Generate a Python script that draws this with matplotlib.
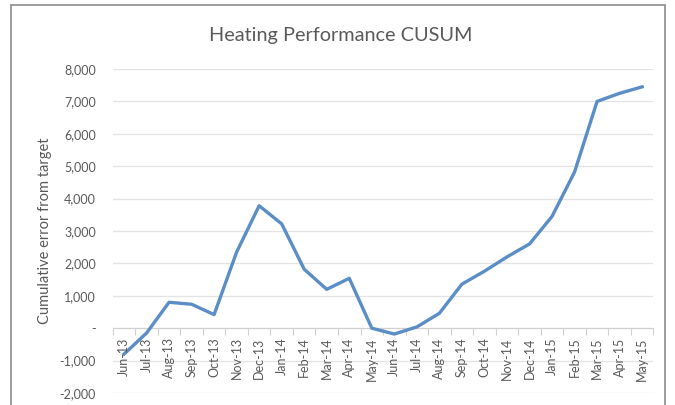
import matplotlib.pyplot as plt
from matplotlib.patches import Rectangle
from matplotlib.ticker import FuncFormatter

plt.rcParams['font.family'] = ['Lato', 'DejaVu Sans']

months = ['Jun-13', 'Jul-13', 'Aug-13', 'Sep-13', 'Oct-13', 'Nov-13', 'Dec-13', 'Jan-14',
          'Feb-14', 'Mar-14', 'Apr-14', 'May-14', 'Jun-14', 'Jul-14', 'Aug-14', 'Sep-14',
          'Oct-14', 'Nov-14', 'Dec-14', 'Jan-15', 'Feb-15', 'Mar-15', 'Apr-15', 'May-15']
cusum = [-800, -150, 800, 740, 420, 2350, 3780, 3220,
         1820, 1200, 1540, 0, -180, 40, 460, 1360,
         1760, 2200, 2600, 3450, 4820, 7000, 7250, 7450]
yticks = list(range(-2000, 8001, 1000))

fig = plt.figure(figsize=(6.75, 4.05), dpi=100)
ax = fig.add_axes([0.167, 0.0296, 0.801, 0.80])

x = list(range(len(months)))
ax.plot(x, cusum, color='#5b8ec6', linewidth=2.4, solid_joinstyle='round', zorder=3)

ax.set_xlim(-0.5, len(months) - 0.5)
ax.set_ylim(-2000, 8000)
ax.set_yticks(yticks)
ax.yaxis.set_major_formatter(FuncFormatter(lambda v, p: '-' if v == 0 else f'{int(v):,}'))
ax.grid(axis='y', color='#e3e3e3', linewidth=0.9, zorder=0)
ax.tick_params(axis='y', length=0, labelsize=9, labelcolor='#595959', pad=12)

for s in ['top', 'right', 'left']:
    ax.spines[s].set_visible(False)
ax.spines['bottom'].set_position(('data', 0))
ax.spines['bottom'].set_color('#d0d0d0')

# category separators on the zero line, labels hanging below it
ax.set_xticks([i - 0.5 for i in range(len(months) + 1)])
ax.set_xticklabels([])
ax.tick_params(axis='x', length=5, color='#d0d0d0', direction='out')
for i, m in enumerate(months):
    ax.text(i, -280, m, rotation=90, ha='center', va='top', fontsize=9, color='#595959')

ax.set_ylabel('Cumulative error from target', fontsize=10.5, color='#595959')
ax.yaxis.set_label_coords((52 - 112.7) / (0.801 * 675), 0.5)

fig.text(341 / 675, 1 - 35 / 405, 'Heating Performance CUSUM', ha='center', va='center',
         fontsize=14.3, color='#595959')

fig.patches.append(Rectangle((11 / 675, -0.05), 654 / 675, 1 - 5 / 405 + 0.05,
                             transform=fig.transFigure, fill=False,
                             edgecolor='#8c8c8c', linewidth=1.2))

fig.savefig('out.png', dpi=100)
